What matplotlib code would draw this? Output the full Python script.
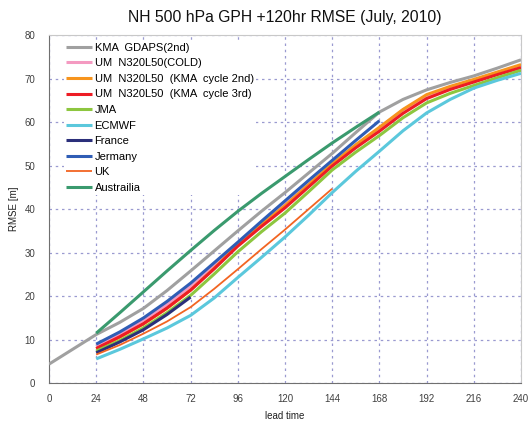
import matplotlib
matplotlib.use("Agg")
import matplotlib.pyplot as plt

plt.rcParams['font.family'] = ['Liberation Sans', 'DejaVu Sans']

title = "NH 500 hPa GPH +120hr RMSE (July, 2010)"
x_ticks = [0, 24, 48, 72, 96, 120, 144, 168, 192, 216, 240]
y_ticks = [0, 10, 20, 30, 40, 50, 60, 70, 80]

kma_x = [0, 24, 36, 48, 60, 72, 84, 96, 108, 120, 132, 144, 156, 168, 180, 192, 204, 216, 228, 240]
kma_y = [4.4, 11.2, 14.0, 17.2, 21.3, 25.8, 30.4, 35.0, 39.5, 43.8, 48.3, 52.8, 57.6, 62.3, 65.2, 67.4, 69.1, 70.6, 72.4, 74.3]

um_x = [24, 36, 48, 60, 72, 84, 96, 108, 120, 132, 144, 156, 168, 180, 192, 204, 216, 228, 240]
um_cold_y = [8.5, 11.3, 14.5, 18.1, 22.2, 27.0, 32.2, 36.8, 41.1, 45.7, 50.3, 54.6, 58.6, 62.8, 66.0, 68.0, 69.6, 71.3, 73.0]
um_2nd_y = [7.9, 10.6, 13.6, 17.2, 21.4, 26.4, 31.8, 36.5, 40.8, 45.6, 50.4, 54.8, 58.8, 62.9, 66.3, 68.2, 69.8, 71.5, 73.2]
um_3rd_y = [8.0, 10.7, 13.7, 17.3, 21.4, 26.3, 31.5, 36.0, 40.3, 45.1, 49.9, 54.1, 57.9, 62.0, 65.4, 67.5, 69.2, 70.9, 72.5]
jma_y = [7.4, 9.8, 12.7, 16.2, 20.2, 25.1, 30.2, 34.8, 39.1, 44.0, 49.0, 53.1, 56.9, 61.0, 64.4, 66.6, 68.4, 70.2, 71.9]
ecmwf_y = [5.6, 7.8, 10.2, 12.7, 15.6, 19.6, 24.3, 28.9, 33.6, 38.6, 43.8, 48.7, 53.3, 58.0, 62.1, 65.2, 67.8, 69.6, 71.2]

france_x = [24, 36, 48, 60, 72]
france_y = [7.0, 9.5, 12.3, 15.8, 19.8]

jermany_x = [24, 36, 48, 60, 72, 84, 96, 108, 120, 132, 144, 156, 168]
jermany_y = [9.0, 11.8, 15.0, 18.8, 23.0, 27.7, 32.4, 37.2, 41.9, 46.6, 51.2, 55.8, 60.3]

uk_x = [24, 36, 48, 60, 72, 84, 96, 108, 120, 132, 144]
uk_y = [6.6, 8.8, 11.4, 14.2, 17.5, 21.7, 26.2, 30.8, 35.3, 40.0, 44.7]

aus_x = [24, 36, 48, 60, 72, 84, 96, 108, 120, 132, 144, 156, 168]
aus_y = [11.5, 16.2, 21.0, 25.8, 30.5, 35.1, 39.5, 43.6, 47.5, 51.4, 55.2, 58.8, 62.3]

series = [
    ("KMA  GDAPS(2nd)", kma_x, kma_y, "#a0a0a0", 2.2),
    ("UM  N320L50(COLD)", um_x, um_cold_y, "#f49ac1", 2.2),
    ("UM  N320L50  (KMA  cycle 2nd)", um_x, um_2nd_y, "#f7941d", 2.2),
    ("UM  N320L50  (KMA  cycle 3rd)", um_x, um_3rd_y, "#ed1c24", 2.2),
    ("JMA", um_x, jma_y, "#8dc63f", 2.2),
    ("ECMWF", um_x, ecmwf_y, "#5bc8dc", 2.2),
    ("France", france_x, france_y, "#2b2f7a", 2.2),
    ("Jermany", jermany_x, jermany_y, "#2f5db5", 2.2),
    ("UK", uk_x, uk_y, "#f26522", 1.3),
    ("Austrailia", aus_x, aus_y, "#3a9a6e", 2.2),
]

fig = plt.figure(figsize=(5.31, 4.22), dpi=100)
ax = fig.add_axes([49/531, (422-383.3)/422, (521-49)/531, (383.3-35)/422])

for name, xs, ys, col, lw in series:
    ax.plot(xs, ys, color=col, lw=lw, label=name, solid_capstyle='butt',
            solid_joinstyle='round', zorder=3)

ax.set_xlim(0, 240)
ax.set_ylim(0, 80)
ax.set_xticks(x_ticks)
ax.set_yticks(y_ticks)
ax.grid(True, color="#9a9ad0", linestyle=(0, (2, 3)), lw=0.9, zorder=0.5)
ax.set_axisbelow(True)
ax.tick_params(axis='x', labelsize=7, colors="#404040", length=0, pad=8)
ax.tick_params(axis='y', labelsize=7, colors="#404040", length=0, pad=10)
for s in ['left', 'bottom']:
    ax.spines[s].set_color("#707070")
for s in ['top', 'right']:
    ax.spines[s].set_color("#c8c8c8")

ax.set_xlabel("lead time", fontsize=7, color="#202020", labelpad=5)
ax.set_ylabel("RMSE [m]", fontsize=7, color="#202020", labelpad=4)
ax.set_title(title, fontsize=11.3, color="#101010", pad=9)

leg = ax.legend(loc='upper left', bbox_to_anchor=(0.02, 1.0), fontsize=8,
                frameon=True, handlelength=2.35, handletextpad=0.2,
                labelspacing=0.5, borderpad=0.2)
leg.get_frame().set_edgecolor('none')
leg.get_frame().set_facecolor('white')
leg.get_frame().set_alpha(1)
leg.set_zorder(1)

fig.savefig("out.png", dpi=100)
